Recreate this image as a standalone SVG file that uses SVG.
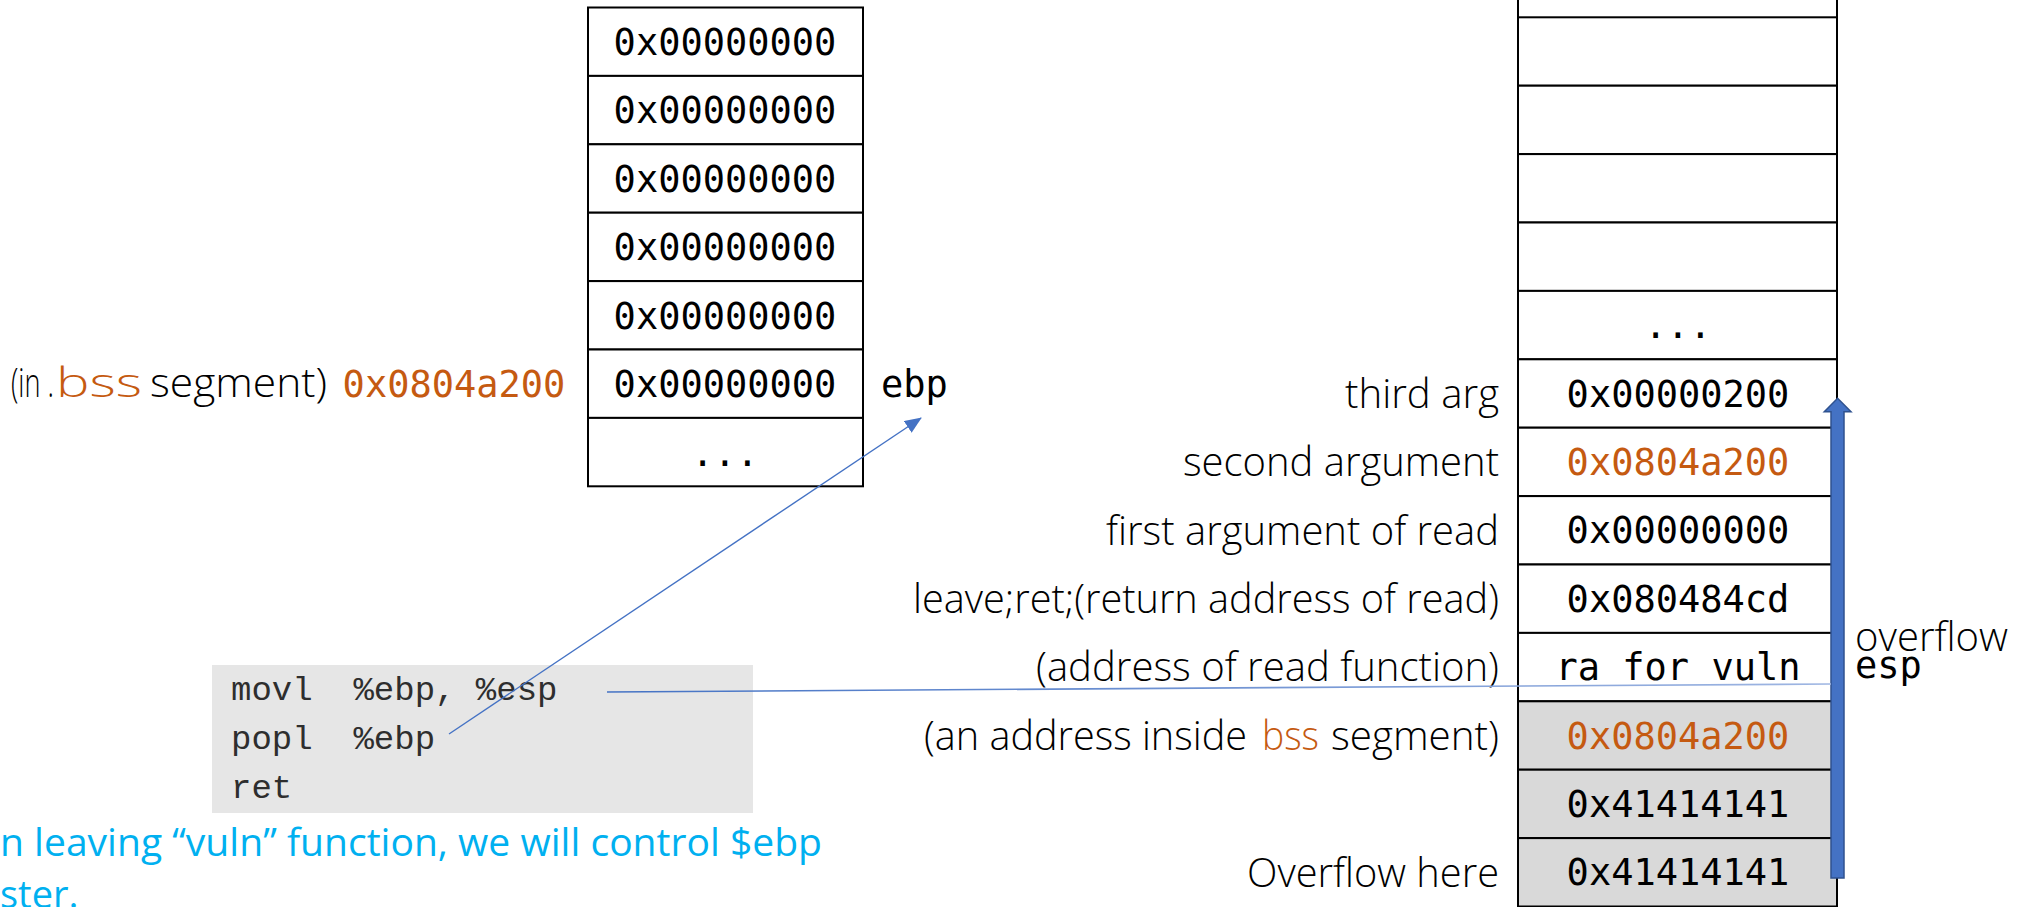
<svg xmlns="http://www.w3.org/2000/svg" width="2031" height="907" viewBox="0 0 2031 907">
  <style>
    .cell { fill: #ffffff; stroke: #000000; stroke-width: 2; }
    .cell-shaded { fill: #d9d9d9; stroke: #000000; stroke-width: 2; }
    .mono { font-family: "DejaVu Sans Mono", "Liberation Mono", monospace; font-size: 37px; fill: #000000; text-anchor: middle; }
    .mono-l { text-anchor: start; }
    .label { font-family: "Open Sans", "Liberation Sans", sans-serif; font-weight: 300; font-size: 40px; fill: #000000; }
    .label-r { text-anchor: end; }
    .orange { fill: #c55a11; }
    .code { font-family: "Liberation Mono", "Courier New", monospace; font-size: 34px; fill: #2e2e2e; }
    .note { font-family: "Open Sans", "Liberation Sans", sans-serif; font-size: 38px; fill: #00b0f0; }
    .link { fill: none; stroke: #4472c4; stroke-width: 1.4; }
  </style>
  <defs>
    <marker id="tip" markerUnits="userSpaceOnUse" markerWidth="18" markerHeight="14" refX="16" refY="7" orient="auto">
      <path d="M0,0 L17,7 L0,14 Z" fill="#4472c4"/>
    </marker>
    <linearGradient id="fade" gradientUnits="userSpaceOnUse" x1="607" y1="0" x2="1832" y2="0">
      <stop offset="0" stop-color="#4472c4"/>
      <stop offset="1" stop-color="#9fb6e2"/>
    </linearGradient>
  </defs>

  <!-- .bss memory column -->
  <g id="bss-stack">
    <rect class="cell" x="588" y="7.5" width="275" height="68.4"/>
    <rect class="cell" x="588" y="75.9" width="275" height="68.4"/>
    <rect class="cell" x="588" y="144.3" width="275" height="68.4"/>
    <rect class="cell" x="588" y="212.7" width="275" height="68.4"/>
    <rect class="cell" x="588" y="281.1" width="275" height="68.4"/>
    <rect class="cell" x="588" y="349.5" width="275" height="68.4"/>
    <rect class="cell" x="588" y="417.9" width="275" height="68.4"/>
    <text class="mono" x="725" y="55">0x00000000</text>
    <text class="mono" x="725" y="123">0x00000000</text>
    <text class="mono" x="725" y="191.5">0x00000000</text>
    <text class="mono" x="725" y="260">0x00000000</text>
    <text class="mono" x="725" y="328.5">0x00000000</text>
    <text class="mono" x="725" y="397">0x00000000</text>
    <text class="mono" x="725" y="466">...</text>
  </g>

  <g id="bss-address">
    <text class="label" x="11" y="397" textLength="43" lengthAdjust="spacingAndGlyphs">(in .</text>
    <text class="label orange" x="56" y="397" font-weight="400" font-size="48" textLength="86" lengthAdjust="spacingAndGlyphs">bss</text>
    <text class="label" x="150" y="397" textLength="177" lengthAdjust="spacingAndGlyphs">segment)</text>
    <text class="mono orange" x="454" y="397">0x0804a200</text>
  </g>

  <g id="ebp-label">
    <text class="mono mono-l" x="881" y="397">ebp</text>
  </g>

  <!-- stack column -->
  <g id="stack">
    <line x1="1518" y1="0" x2="1518" y2="17.3" stroke="#000" stroke-width="2"/>
    <line x1="1837" y1="0" x2="1837" y2="17.3" stroke="#000" stroke-width="2"/>
    <rect class="cell" x="1518" y="17.3" width="319" height="68.4"/>
    <rect class="cell" x="1518" y="85.7" width="319" height="68.4"/>
    <rect class="cell" x="1518" y="154.1" width="319" height="68.4"/>
    <rect class="cell" x="1518" y="222.5" width="319" height="68.4"/>
    <rect class="cell" x="1518" y="290.9" width="319" height="68.4"/>
    <rect class="cell" x="1518" y="359.3" width="319" height="68.4"/>
    <rect class="cell" x="1518" y="427.7" width="319" height="68.4"/>
    <rect class="cell" x="1518" y="496.1" width="319" height="68.4"/>
    <rect class="cell" x="1518" y="564.5" width="319" height="68.4"/>
    <rect class="cell" x="1518" y="632.9" width="319" height="68.4"/>
    <rect class="cell-shaded" x="1518" y="701.3" width="319" height="68.4"/>
    <rect class="cell-shaded" x="1518" y="769.7" width="319" height="68.4"/>
    <rect class="cell-shaded" x="1518" y="838.1" width="319" height="68.4"/>
    <text class="mono" x="1678" y="338">...</text>
    <text class="mono" x="1678" y="406.5">0x00000200</text>
    <text class="mono orange" x="1678" y="475">0x0804a200</text>
    <text class="mono" x="1678" y="543.3">0x00000000</text>
    <text class="mono" x="1678" y="611.7">0x080484cd</text>
    <text class="mono" x="1678" y="680">ra for vuln</text>
    <text class="mono orange" x="1678" y="748.5">0x0804a200</text>
    <text class="mono" x="1678" y="816.9">0x41414141</text>
    <text class="mono" x="1678" y="885.3">0x41414141</text>
  </g>

  <g id="stack-labels">
    <text class="label label-r" x="1499" y="408" textLength="154" lengthAdjust="spacingAndGlyphs">third arg</text>
    <text class="label label-r" x="1499" y="476" textLength="316" lengthAdjust="spacingAndGlyphs">second argument</text>
    <text class="label label-r" x="1499" y="545" textLength="393" lengthAdjust="spacingAndGlyphs">first argument of read</text>
    <text class="label label-r" x="1499" y="613" textLength="586" lengthAdjust="spacingAndGlyphs">leave;ret;(return address of read)</text>
    <text class="label label-r" x="1499" y="681" textLength="463" lengthAdjust="spacingAndGlyphs">(address of read function)</text>
    <text class="label" x="924" y="750" textLength="323" lengthAdjust="spacingAndGlyphs">(an address inside</text>
    <text class="label orange" x="1262" y="750" textLength="57" lengthAdjust="spacingAndGlyphs">bss</text>
    <text class="label label-r" x="1499" y="750" textLength="168" lengthAdjust="spacingAndGlyphs">segment)</text>
    <text class="label label-r" x="1499" y="887" textLength="252" lengthAdjust="spacingAndGlyphs">Overflow here</text>
  </g>

  <!-- overflow direction arrow along the stack edge -->
  <g id="overflow-arrow">
    <path d="M1831,878 L1831,411.7 L1824.3,411.7 L1837.6,398.3 L1851,411.7 L1844,411.7 L1844,878 Z" fill="#4472c4" stroke="#2f528f" stroke-width="1.5"/>
    <text class="label" x="1855" y="651" textLength="153" lengthAdjust="spacingAndGlyphs">overflow</text>
    <text class="mono mono-l" x="1855" y="678">esp</text>
  </g>

  <!-- epilogue of vuln -->
  <g id="epilogue">
    <rect x="212" y="665" width="541" height="148" fill="#e6e6e6"/>
    <text class="code" x="231" y="700" xml:space="preserve">movl  %ebp, %esp</text>
    <text class="code" x="231" y="749" xml:space="preserve">popl  %ebp</text>
    <text class="code" x="231" y="798">ret</text>
  </g>

  <g id="note">
    <text class="note" x="0" y="856" textLength="822" lengthAdjust="spacingAndGlyphs">n leaving “vuln” function, we will control $ebp</text>
    <text class="note" x="0" y="908">ster.</text>
  </g>

  <g id="connectors">
    <line class="link" x1="449" y1="734" x2="921" y2="418" marker-end="url(#tip)"/>
    <line x1="607" y1="692" x2="1831" y2="684" stroke="url(#fade)" stroke-width="1.6"/>
  </g>
</svg>
